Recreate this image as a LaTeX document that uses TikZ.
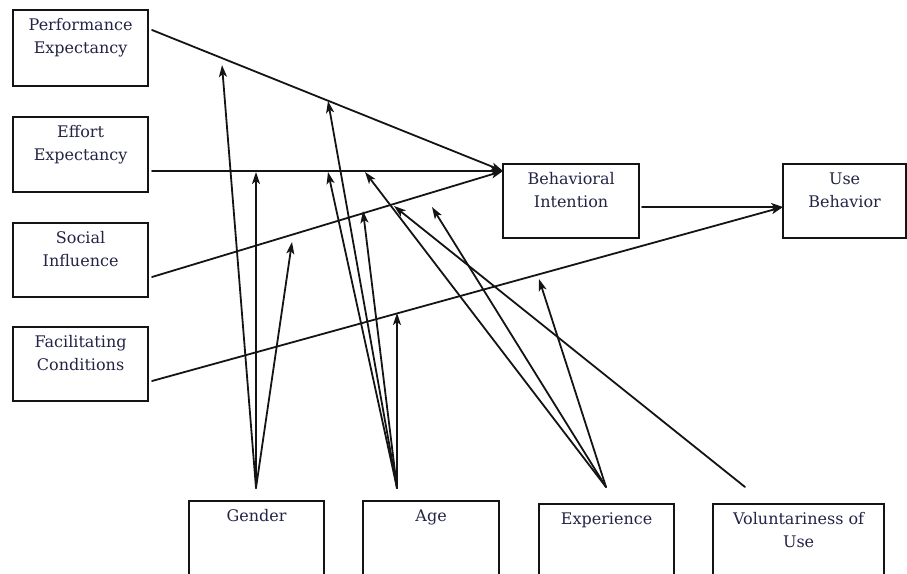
\documentclass[tikz,border=0pt]{standalone}
\usepackage{fontspec}
\setmainfont{DejaVu Serif}
\usetikzlibrary{arrows.meta}

\definecolor{ink}{RGB}{20,20,20}
\definecolor{txt}{RGB}{35,35,70}

% Box contents: fixed-size top-aligned paragraph, first baseline pushed down by a strut
\newcommand{\boxtext}[3]{\parbox[t][#2][t]{#1}{\centering\rule{0pt}{20pt}#3}}

\tikzset{
  box/.style={draw=ink, line width=2.2pt, rectangle, inner sep=0pt,
              anchor=north west, text=txt, font=\fontsize{16}{23}\selectfont},
  link/.style={draw=ink, line width=1.8pt, line cap=round,
               -{Stealth[length=12pt,width=8pt,inset=3pt]}},
}

\begin{document}
\begin{tikzpicture}[x=1pt, y=-1pt]
\useasboundingbox (0,0) rectangle (907,573);
\clip (0,0) rectangle (907,573);

% construct boxes
\node[box] (pe)  at (12,9)    {\boxtext{135pt}{76pt}{Performance\\Expectancy}};
\node[box] (ee)  at (12,116)  {\boxtext{135pt}{75pt}{Effort\\Expectancy}};
\node[box] (si)  at (12,222)  {\boxtext{135pt}{74pt}{Social\\Influence}};
\node[box] (fc)  at (12,326)  {\boxtext{135pt}{74pt}{Facilitating\\Conditions}};
\node[box] (bi)  at (502,163) {\boxtext{136pt}{74pt}{Behavioral\\Intention}};
\node[box] (ub)  at (782,163) {\boxtext{123pt}{74pt}{Use\\Behavior}};

% moderator boxes (run off the lower edge)
\node[box] (gen) at (188,500) {\boxtext{135pt}{100pt}{Gender}};
\node[box] (age) at (362,500) {\boxtext{136pt}{100pt}{Age}};
\node[box] (exp) at (538,503) {\boxtext{135pt}{100pt}{Experience}};
\node[box] (vol) at (712,503) {\boxtext{171pt}{100pt}{Voluntariness of\\Use}};

% connector end points
\coordinate (pe-out) at (152,30);
\coordinate (ee-out) at (152,171);
\coordinate (si-out) at (152,277);
\coordinate (fc-out) at (152,381);
\coordinate (bi-in)  at (503,171);
\coordinate (bi-out) at (642,207);
\coordinate (ub-in)  at (783,207);

\coordinate (gen-src) at (256,488);
\coordinate (age-src) at (397,488);
\coordinate (exp-src) at (606,487);
\coordinate (vol-src) at (745,487);

% moderating arrow tips
\coordinate (g1) at (222,65);
\coordinate (g2) at (256,172);
\coordinate (g3) at (292,242);
\coordinate (a1) at (328,101);
\coordinate (a2) at (328,172);
\coordinate (a3) at (363,211);
\coordinate (a4) at (397,313);
\coordinate (e1) at (365,172);
\coordinate (e2) at (432,207);
\coordinate (e3) at (539,279);
\coordinate (v1) at (394,206);

% main paths
\draw[link] (pe-out) -- (bi-in);
\draw[link] (ee-out) -- (bi-in);
\draw[link] (si-out) -- (bi-in);
\draw[link] (fc-out) -- (ub-in);
\draw[link] (bi-out) -- (ub-in);

% moderators
\draw[link] (gen-src) -- (g1);
\draw[link] (gen-src) -- (g2);
\draw[link] (gen-src) -- (g3);

\draw[link] (age-src) -- (a1);
\draw[link] (age-src) -- (a2);
\draw[link] (age-src) -- (a3);
\draw[link] (age-src) -- (a4);

\draw[link] (exp-src) -- (e1);
\draw[link] (exp-src) -- (e2);
\draw[link] (exp-src) -- (e3);

\draw[link] (vol-src) -- (v1);
\end{tikzpicture}
\end{document}
